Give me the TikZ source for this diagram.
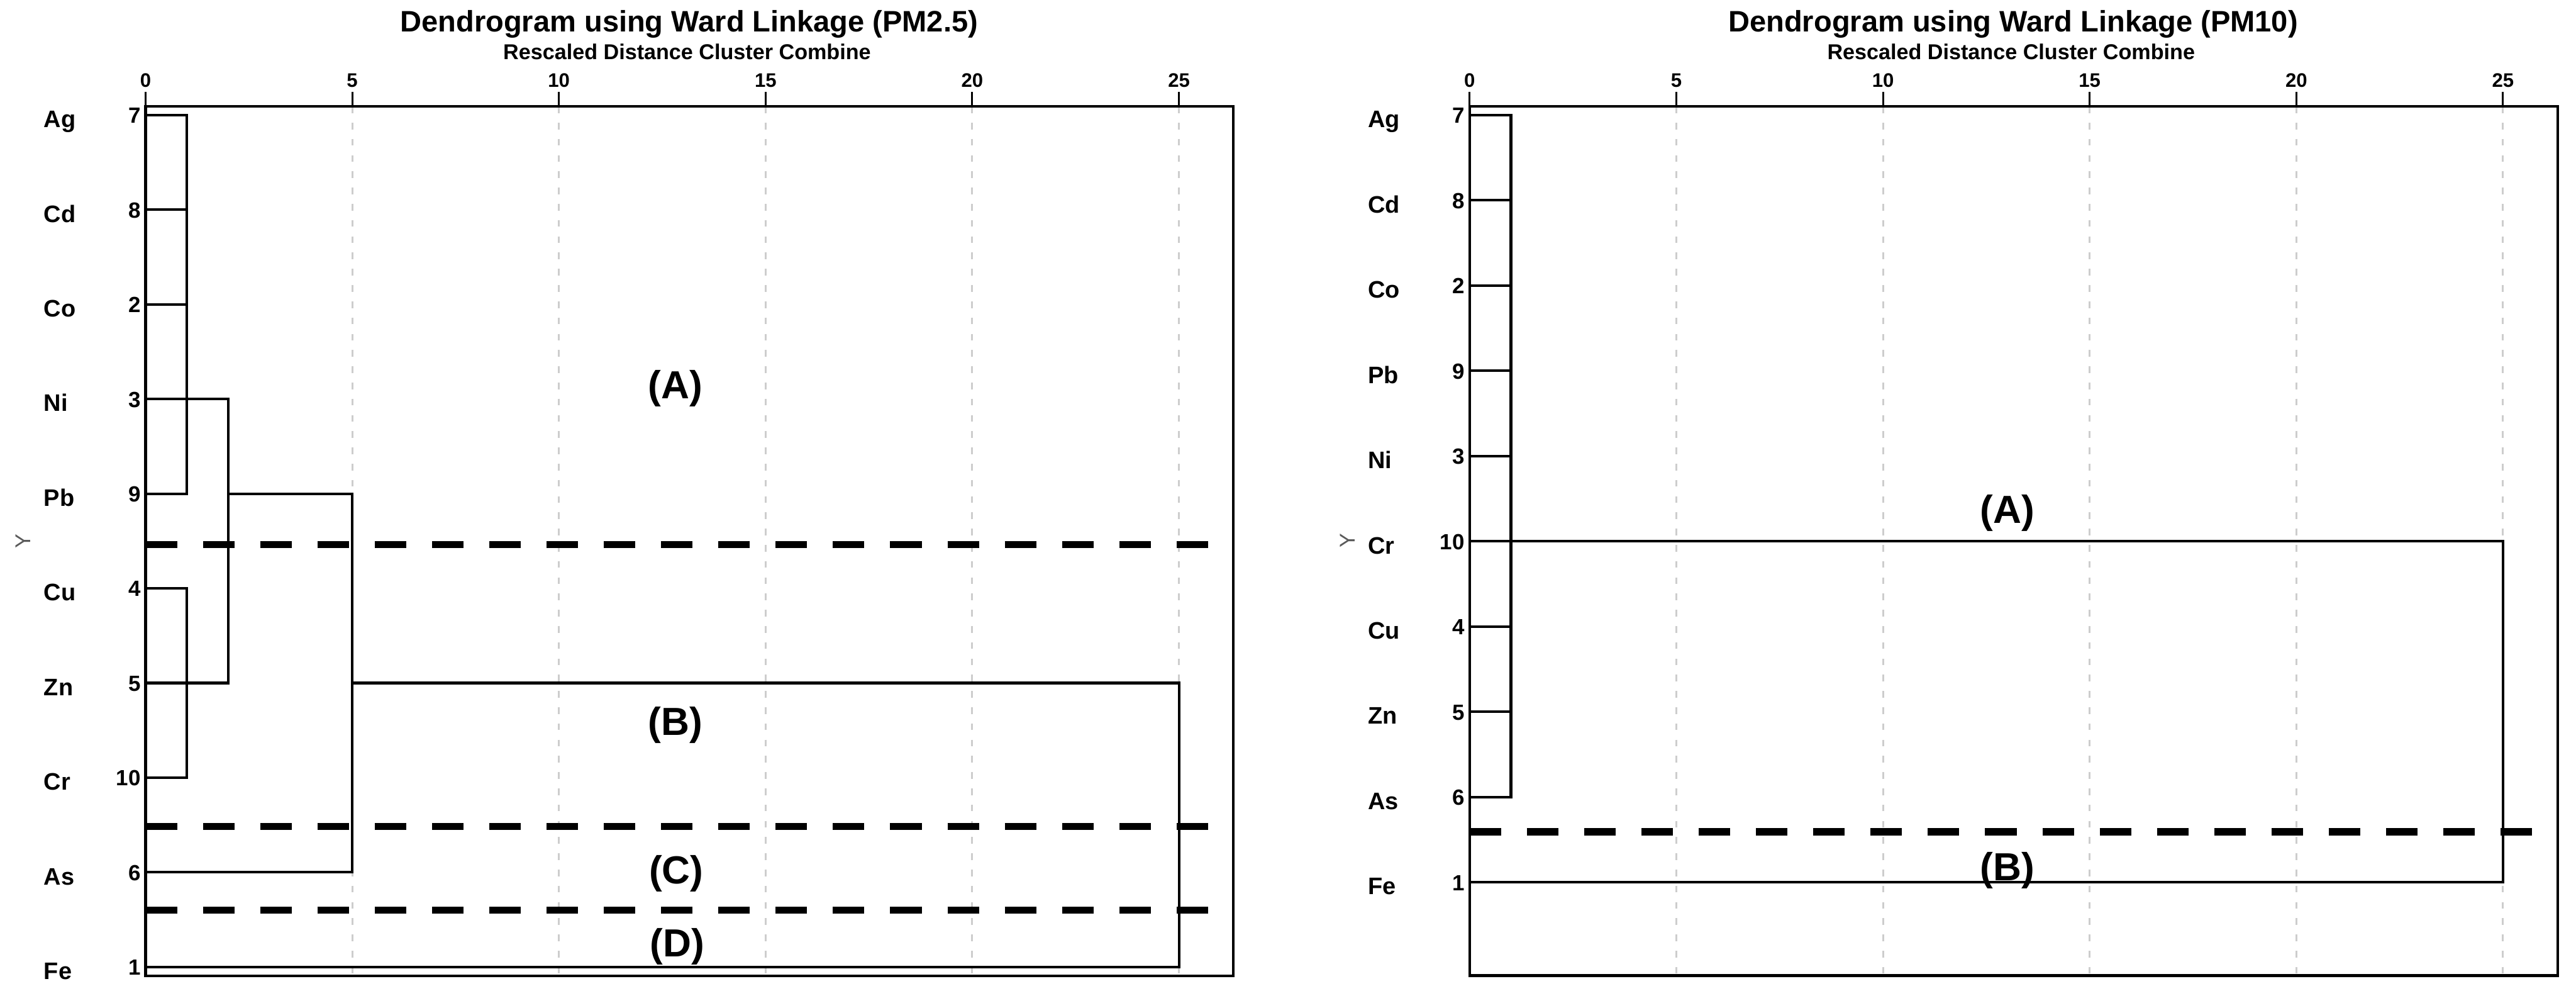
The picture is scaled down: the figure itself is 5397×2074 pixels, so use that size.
\documentclass[tikz,border=0pt]{standalone}
\usepackage{fontspec}
\setmainfont{Liberation Sans}
\usetikzlibrary{positioning}
\definecolor{gridgrey}{RGB}{205,205,205}
\definecolor{axisgrey}{RGB}{90,90,90}
\tikzset{
  dline/.style  ={line width=5.5pt,line join=miter},
  framebox/.style={line width=5.5pt},
  tickmark/.style={line width=4pt},
  gridline/.style={draw=gridgrey,line width=4pt,dash pattern=on 14pt off 20pt},
  cutline/.style={line width=15pt,dash pattern=on 66pt off 54pt},
  ttl/.style    ={font=\fontsize{62}{70}\selectfont\bfseries,anchor=base,inner sep=0pt},
  subttl/.style ={font=\fontsize{45}{50}\selectfont\bfseries,anchor=base,inner sep=0pt},
  ticklab/.style={font=\fontsize{41}{46}\selectfont\bfseries,anchor=base,inner sep=0pt},
  elem/.style   ={font=\fontsize{50}{56}\selectfont\bfseries,anchor=base west,inner sep=0pt},
  leafno/.style ={font=\fontsize{46}{50}\selectfont\bfseries,anchor=base east,inner sep=0pt},
  ylab/.style   ={font=\fontsize{45}{50}\selectfont,text=axisgrey,rotate=90,inner sep=0pt},
  grp/.style    ={font=\fontsize{82}{90}\selectfont\bfseries,anchor=base,inner sep=0pt},
}

\begin{document}
\begin{tikzpicture}[x=1pt,y=-1pt]
\useasboundingbox (0,0) rectangle (5397,2074);

% ---- PM2.5 ----
\begin{scope}[shift={(305,0)},x=86.6pt]
\foreach \t in {5,10,...,25} \draw[gridline] (\t,223) -- (\t,2044);
\foreach \t in {0,5,...,25} {
  \draw[tickmark] (\t,193) -- (\t,223);
  \node[ticklab] (Lt\t) at (\t,183) {\t};
}
\node[ttl] (Lttl) at (13.15,67) {Dendrogram using Ward Linkage (PM2.5)};
\node[subttl] (Lsub) at (13.1,125) {Rescaled Distance Cluster Combine};
\node[ylab] (Ly) at (-2.96,1133) {Y};
\foreach \e/\n [count=\i from 0] in {Ag/7,Cd/8,Co/2,Ni/3,Pb/9,Cu/4,Zn/5,Cr/10,As/6,Fe/1} {
  \pgfmathsetmacro\yy{241+\i*198.2}
  \coordinate (L\e) at (0,\yy);
  \node[elem] (Le\e) at (-2.46,\yy+26) {\e};
  \node[leafno] (Ln\e) at (-0.12,\yy+17) {\n};
}
\coordinate (Lx1) at (1,0);
\coordinate (Lx2) at (2,0);
\coordinate (Lx5) at (5,0);
\coordinate (Lx25) at (25,0);
\draw[dline] (LAg) -| (LPb -| Lx1) -- (LPb);
\foreach \e in {Cd,Co} \draw[dline] (L\e) -- (L\e -| Lx1);
\draw[dline] (LCu) -| (LCr -| Lx1) -- (LCr);
\draw[dline] (LNi) -| (LZn -| Lx2) -- (LZn);
\draw[dline] (LPb -| Lx2) -| (LAs -| Lx5) -- (LAs);
\draw[dline] (LZn -| Lx5) -| (LFe -| Lx25) -- (LFe);
\draw[framebox] (0,223) rectangle (26.32,2044);
\draw[cutline] (0,1140) -- (25.7,1140);
\draw[cutline] (0,1731) -- (25.7,1731);
\draw[cutline] (0,1906) -- (25.7,1906);
\node[grp] (LA) at (12.82,835) {(A)};
\node[grp] (LB) at (12.82,1540) {(B)};
\node[grp] (LC) at (12.84,1850) {(C)};
\node[grp] (LD) at (12.86,2003) {(D)};
\end{scope}

% ---- PM10 ----
\begin{scope}[shift={(3079,0)},x=86.6pt]
\foreach \t in {5,10,...,25} \draw[gridline] (\t,223) -- (\t,2043);
\foreach \t in {0,5,...,25} {
  \draw[tickmark] (\t,193) -- (\t,223);
  \node[ticklab] (Rt\t) at (\t,183) {\t};
}
\node[ttl] (Rttl) at (13.15,67) {Dendrogram using Ward Linkage (PM10)};
\node[subttl] (Rsub) at (13.1,125) {Rescaled Distance Cluster Combine};
\node[ylab] (Ry) at (-2.96,1132) {Y};
\foreach \e/\n [count=\i from 0] in {Ag/7,Cd/8,Co/2,Pb/9,Ni/3,Cr/10,Cu/4,Zn/5,As/6,Fe/1} {
  \pgfmathsetmacro\yy{241+\i*178.5}
  \coordinate (R\e) at (0,\yy);
  \node[elem] (Re\e) at (-2.46,\yy+26) {\e};
  \node[leafno] (Rn\e) at (-0.12,\yy+17) {\n};
}
\coordinate (Rx1) at (1,0);
\coordinate (Rx25) at (25,0);
\draw[dline] (RAg) -| (RAs -| Rx1) -- (RAs);
\foreach \e in {Cd,Co,Pb,Ni,Cu,Zn} \draw[dline] (R\e) -- (R\e -| Rx1);
\draw[dline] (RCr) -| (RFe -| Rx25) -- (RFe);
\draw[framebox] (0,223) rectangle (26.32,2043);
\draw[cutline] (0,1742) -- (25.7,1742);
\node[grp] (RA) at (13.01,1096) {(A)};
\node[grp] (RB) at (13.01,1844) {(B)};
\end{scope}
\end{tikzpicture}
\end{document}
